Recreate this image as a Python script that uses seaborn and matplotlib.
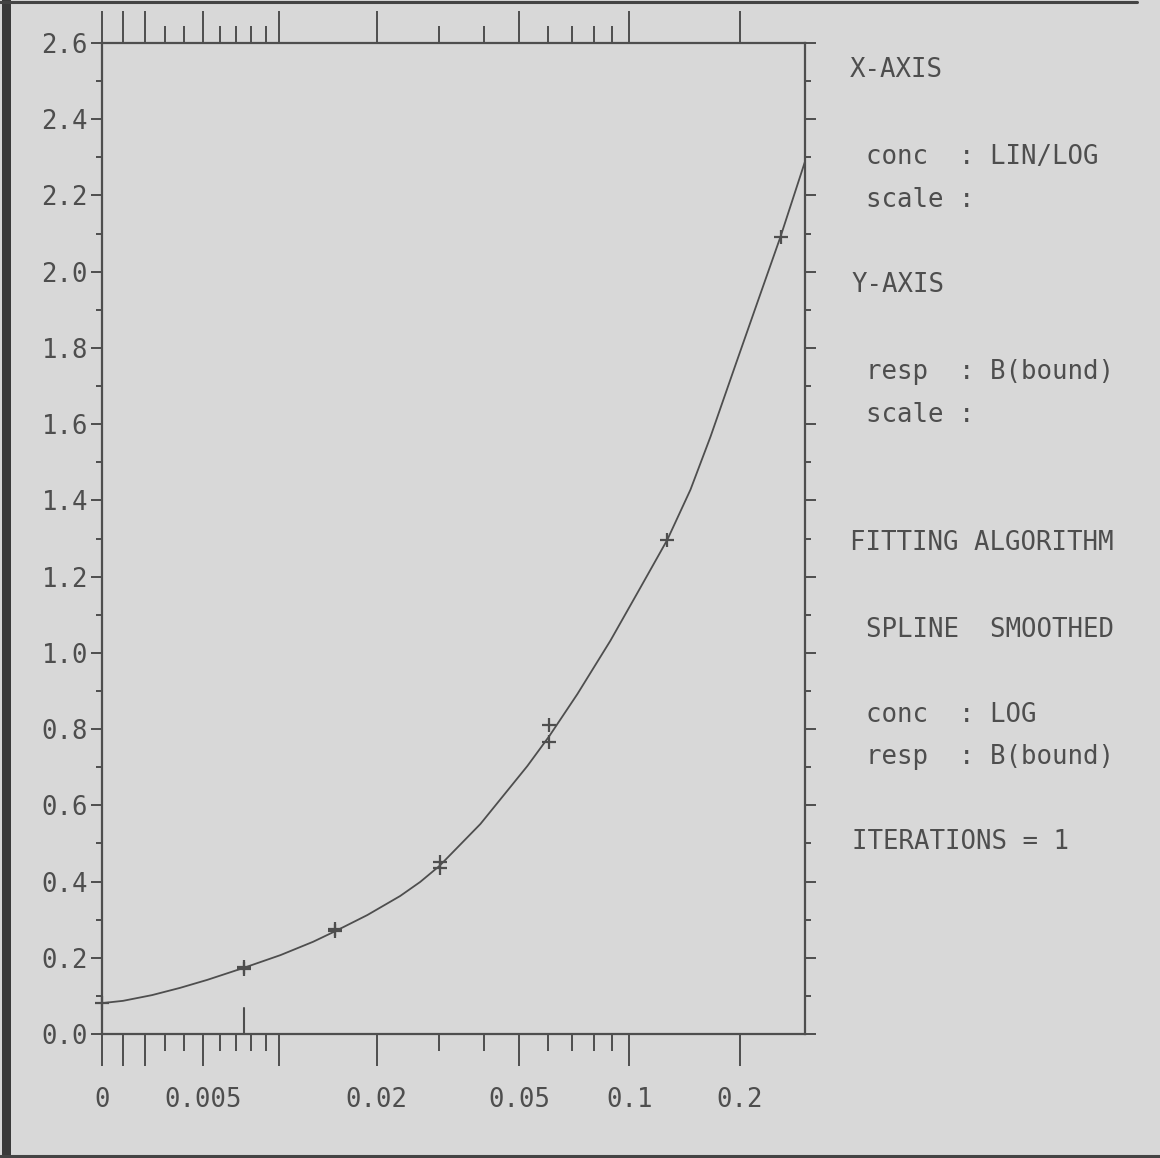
import numpy as np
import pandas as pd
import matplotlib
matplotlib.use("Agg")
import matplotlib.pyplot as plt
from matplotlib.lines import Line2D
from matplotlib.patches import Rectangle
import seaborn as sns

# ---- data ----
# smoothed spline curve (conc, response)
curve_conc = [0, 0.00098, 0.00236, 0.00377, 0.00525, 0.00744, 0.01012, 0.01291,
              0.01512, 0.01879, 0.02336, 0.02663, 0.03015, 0.03917, 0.05272,
              0.06058, 0.07224, 0.08886, 0.1072, 0.12693, 0.14664, 0.16621,
              0.19441, 0.22313, 0.2575, 0.3]
curve_resp = [0.081, 0.087, 0.102, 0.121, 0.142, 0.173, 0.207, 0.242, 0.270,
              0.312, 0.362, 0.399, 0.441, 0.551, 0.703, 0.782, 0.892, 1.032,
              1.171, 1.297, 1.428, 1.567, 1.756, 1.921, 2.092, 2.289]

# standards (replicates)
std_conc = [0, 0.0075, 0.0075, 0.0151, 0.0151, 0.0302, 0.0302, 0.0606, 0.0606, 0.127, 0.2575]
std_resp = [0.081, 0.170, 0.177, 0.270, 0.276, 0.451, 0.436, 0.811, 0.766, 1.297, 2.092]

# detection-limit mark
limit_conc = [0.0075, 0.0075]
limit_resp = [0.0, 0.068]

x_major = [0, 0.001, 0.002, 0.005, 0.01, 0.02, 0.05, 0.1, 0.2]
x_labels = ["0", "", "", "0.005", "", "0.02", "0.05", "0.1", "0.2"]
x_minor = [0.003, 0.004, 0.006, 0.007, 0.008, 0.009, 0.03, 0.04, 0.06, 0.07, 0.08, 0.09]
y_major = [round(0.2 * i, 1) for i in range(14)]
y_minor = [round(0.1 + 0.2 * i, 1) for i in range(13)]

panel_lines = [
    ("X-AXIS", 850, 70),
    ("conc  : LIN/LOG", 866, 157),
    ("scale :", 866, 200),
    ("Y-AXIS", 852, 285),
    ("resp  : B(bound)", 866, 372),
    ("scale :", 866, 415),
    ("FITTING ALGORITHM", 850, 543),
    ("SPLINE  SMOOTHED", 866, 630),
    ("conc  : LOG", 866, 715),
    ("resp  : B(bound)", 866, 757),
    ("ITERATIONS = 1", 852, 842),
]

# ---- style ----
sns.set_style("ticks")
plt.rcParams["font.family"] = ["DejaVu Sans Mono"]
bg = "#d8d8d8"
ink = "#4e4e4e"
fs = 18.5

W, H = 1160, 1158
fig = plt.figure(figsize=(W / 100, H / 100), dpi=100, facecolor=bg)
ax = fig.add_axes([102 / W, 1 - 1034 / H, (805 - 102) / W, (1034 - 43) / H])
ax.set_facecolor(bg)

ax.set_xscale("asinh", linear_width=0.00744)
ax.set_xlim(0, 0.3)
ax.set_ylim(0, 2.6)

sns.lineplot(x=curve_conc, y=curve_resp, ax=ax, color=ink, linewidth=1.3,
             sort=False, estimator=None)
sns.scatterplot(x=std_conc, y=std_resp, ax=ax, marker="+", s=110, color=ink,
                linewidth=1.6, clip_on=False, zorder=5)
sns.lineplot(x=limit_conc, y=limit_resp, ax=ax, color=ink, linewidth=1.5,
             sort=False, estimator=None)

for s in ax.spines.values():
    s.set_visible(True)
    s.set_color(ink)
    s.set_linewidth(1.6)

ax.set_xticks(x_major)
ax.set_xticklabels(x_labels)
ax.set_xticks(x_minor, minor=True)
ax.set_yticks(y_major)
ax.set_yticklabels([f"{v:.1f}" for v in y_major])
ax.set_yticks(y_minor, minor=True)

ax.tick_params(axis="x", which="both", top=True, bottom=True, direction="out",
               color=ink, width=1.4, labelcolor=ink, labelsize=fs)
ax.tick_params(axis="x", which="major", length=23, pad=15)
ax.tick_params(axis="x", which="minor", length=12)
ax.tick_params(axis="y", which="both", left=True, right=True, direction="out",
               color=ink, width=1.4, labelcolor=ink, labelsize=fs)
ax.tick_params(axis="y", which="major", length=8, pad=2)
ax.tick_params(axis="y", which="minor", length=4)
ax.set_xlabel("")
ax.set_ylabel("")

for txt, px, py in panel_lines:
    fig.text(px / W, 1 - py / H, txt, ha="left", va="center", fontsize=fs, color=ink)

# scan page border
fig.add_artist(Rectangle((2 / W, 0), 9 / W, 1, transform=fig.transFigure,
                         color="#3a3a3a", lw=0))
fig.add_artist(Line2D([0, 1137 / W], [1 - 2 / H, 1 - 2 / H], transform=fig.transFigure,
                      color="#444444", lw=2.2))
fig.add_artist(Line2D([0, 1], [1 - 1156 / H, 1 - 1156 / H], transform=fig.transFigure,
                      color="#444444", lw=2.2))

fig.savefig("out.png", dpi=100, facecolor=bg)
